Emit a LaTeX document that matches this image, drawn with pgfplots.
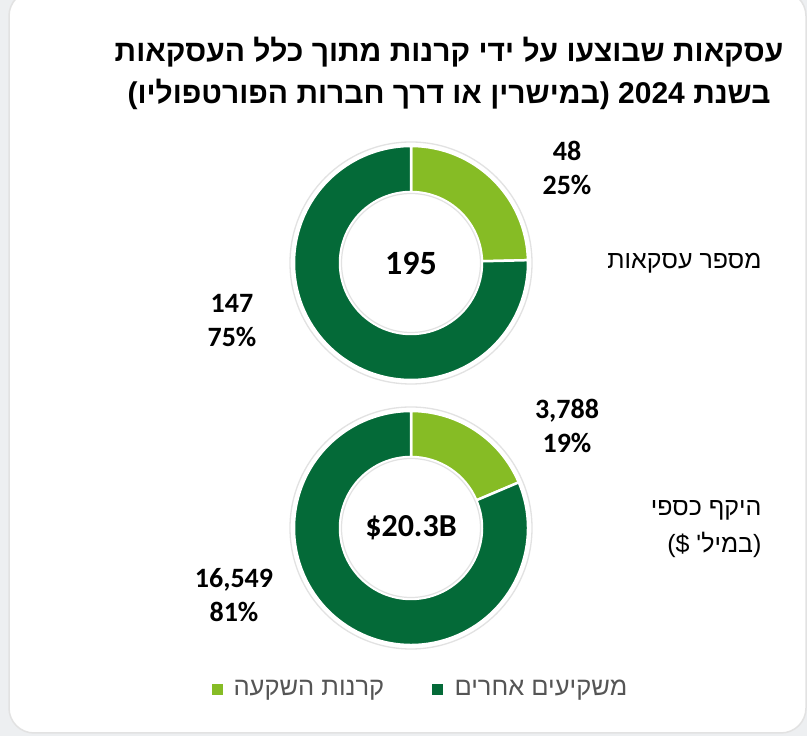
\documentclass[border=0pt]{standalone}
\usepackage{pgfplots}
\pgfplotsset{compat=1.18}
\usepackage{pgfplotstable}
\usepackage{fontspec}
\setmainfont{Carlito}
\newfontfamily\heb[Script=Hebrew]{Liberation Sans}
\TeXXeTstate=1

\definecolor{fundgreen}{HTML}{86BC25}
\definecolor{othergreen}{HTML}{046A38}
\definecolor{legendgray}{HTML}{555555}
\definecolor{ringgray}{HTML}{E2E2E2}
\definecolor{pagegray}{HTML}{EDEFF1}

% number of deals
\pgfplotstableread{
group value
funds 48
others 147
}\dealcount
% deal volume, $M
\pgfplotstableread{
group value
funds 3788
others 16549
}\dealvolume

\pgfplotstablegetelem{0}{value}\of\dealcount \let\cntA\pgfplotsretval
\pgfplotstablegetelem{1}{value}\of\dealcount \let\cntB\pgfplotsretval
\pgfplotstablegetelem{0}{value}\of\dealvolume \let\volA\pgfplotsretval
\pgfplotstablegetelem{1}{value}\of\dealvolume \let\volB\pgfplotsretval
% angle where the funds' slice ends (pgfmath overflows on 16549, so \fpeval)
\edef\cntMid{\fpeval{round(90-360*\cntA/(\cntA+\cntB),3)}}
\edef\volMid{\fpeval{round(90-360*\volA/(\volA+\volB),3)}}

\def\Rout{117pt}
\def\Rin{71pt}

% one ring: centre, angle where the light slice ends
\newcommand\donut[3]{%
  \begin{scope}[shift={(axis cs:#1,#2)}]
    \fill[white] (0,0) circle[radius=124pt];
    \draw[ringgray, line width=1.3pt] (0,0) circle[radius=121pt];
    \fill[fundgreen, draw=white, line width=2.5pt]
      (90:\Rout) arc[start angle=90, end angle=#3, radius=\Rout]
      -- (#3:\Rin) arc[start angle=#3, end angle=90, radius=\Rin] -- cycle;
    \fill[othergreen, draw=white, line width=2.5pt]
      (#3:\Rout) arc[start angle=#3, end angle=-270, radius=\Rout]
      -- (-270:\Rin) arc[start angle=-270, end angle=#3, radius=\Rin] -- cycle;
    \draw[ringgray, line width=1.2pt] (0,0) circle[radius=69.5pt];
  \end{scope}}

\begin{document}
\begin{tikzpicture}
\path[use as bounding box] (0,0) rectangle (807pt,736pt);
\begin{axis}[
  at={(0,0)}, anchor=south west,
  width=807pt, height=736pt, scale only axis,
  xmin=0, xmax=807, ymin=0, ymax=736,
  hide axis, clip=false,
]
% page and card
\fill[pagegray] (axis cs:0,0) rectangle (axis cs:807,736);
\draw[ringgray, fill=white, line width=1.5pt, rounded corners=25pt]
  (axis cs:9,3) rectangle (axis cs:806,745);

% title
\node[font=\heb\bfseries\fontsize{30}{34}\selectfont, anchor=base]
  at (axis cs:449,674) {\beginR עסקאות שבוצעו על ידי קרנות מתוך כלל העסקאות\endR};
\node[font=\heb\bfseries\fontsize{30}{34}\selectfont, anchor=base]
  at (axis cs:449,632) {\beginR בשנת \beginL 2024\endL{} (במישרין או דרך חברות הפורטפוליו)\endR};

\donut{411}{473}{\cntMid}
\donut{411}{208}{\volMid}

% values
\begin{scope}[every node/.style={font=\bfseries\fontsize{28}{34}\selectfont, align=center}]
\node at (axis cs:567,568) {48\\25\%};
\node at (axis cs:232,415) {147\\75\%};
\node at (axis cs:567,310) {3,788\\19\%};
\node at (axis cs:234,141) {16,549\\81\%};
\node[font=\bfseries\fontsize{34}{40}\selectfont] at (axis cs:411,473) {195};
\node[font=\bfseries\fontsize{32}{38}\selectfont] at (axis cs:411,208) {\$20.3B};
\end{scope}

% row names
\node[font=\heb\fontsize{25}{34}\selectfont, anchor=east] at (axis cs:765,473)
  {\beginR מספר עסקאות\endR};
\node[font=\heb\fontsize{25}{34}\selectfont, anchor=east] at (axis cs:765,226)
  {\beginR היקף כספי\endR};
\node[font=\heb\fontsize{25}{34}\selectfont, anchor=east] at (axis cs:765,191)
  {\beginR (במיל' \$)\endR};

% legend
\fill[othergreen] (axis cs:432,41) rectangle (axis cs:443,52);
\node[font=\heb\fontsize{25.5}{30}\selectfont, text=legendgray, anchor=west]
  at (axis cs:451,46) {\beginR משקיעים אחרים\endR};
\fill[fundgreen] (axis cs:212,41) rectangle (axis cs:223,52);
\node[font=\heb\fontsize{25.5}{30}\selectfont, text=legendgray, anchor=west]
  at (axis cs:230,46) {\beginR קרנות השקעה\endR};
\end{axis}
\end{tikzpicture}
\end{document}
